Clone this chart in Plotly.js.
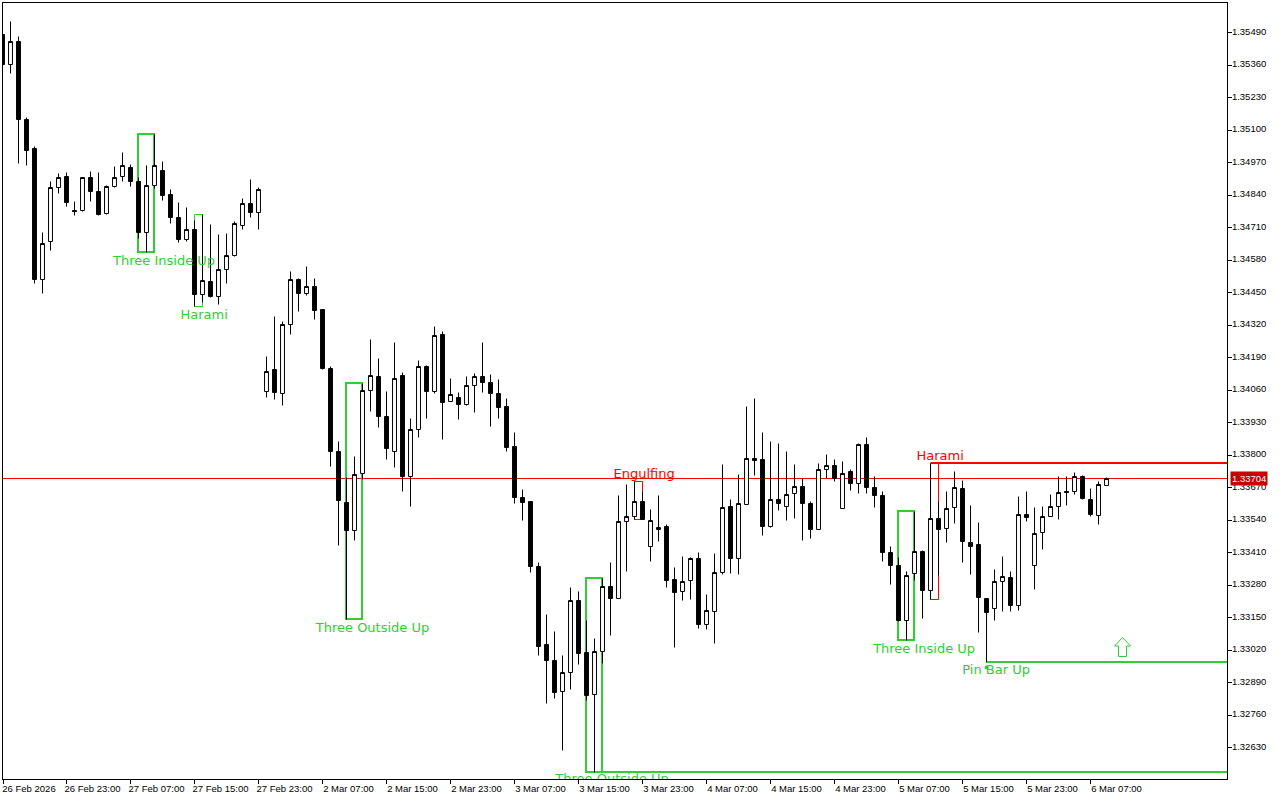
<!DOCTYPE html>
<html><head><meta charset="utf-8">
<script src="https://cdn.plot.ly/plotly-3.0.1.min.js"></script>
<style>html,body{margin:0;padding:0;background:#fff}#c{width:1280px;height:800px}</style>
</head><body><div id="c"></div>
<script>
const open = [1.35482,1.35362,1.35454,1.35142,1.35026,1.34502,1.34654,1.34870,1.34914,1.34778,1.34778,1.34910,1.34854,1.34766,1.34874,1.34914,1.34950,1.34894,1.34690,1.34878,1.34938,1.34842,1.34750,1.34662,1.34702,1.34442,1.34494,1.34434,1.34542,1.34598,1.34718,1.34806,1.34770,
1.34054,1.34142,1.34046,1.34322,1.34502,1.34446,1.34474,1.34382,1.34146,1.33814,1.33610,1.33498,1.33726,1.34058,1.34114,1.33954,1.33814,1.34118,1.33714,1.33902,1.34154,1.34054,1.34282,1.34014,1.34030,1.34002,1.34078,1.34114,1.34090,1.34046,1.33994,1.33834,1.33630,1.33614,1.33354,1.33042,1.32978,1.32854,1.32930,1.33218,1.33010,1.32842,1.33014,1.33274,1.33226,1.33534,1.33554,1.33614,1.33434,1.33502,1.33514,1.33302,1.33254,1.33298,1.33386,1.33122,1.33174,1.33330,1.33594,1.33386,1.33602,1.33786,1.33782,1.33514,1.33622,1.33594,1.33646,1.33674,1.33606,1.33502,1.33742,1.33758,1.33586,1.33734,1.33686,1.33842,1.33670,1.33638,1.33410,1.33358,1.33138,1.33326,1.33414,1.33258,1.33546,1.33506,1.33590,1.33666,1.33450,1.33442,1.33226,1.33186,1.33294,1.33310,1.33198,1.33562,1.33358,1.33490,1.33554,1.33594,1.33654,1.33654,1.33714,1.33622,1.33558,1.33678];
const high = [1.35482,1.35534,1.35474,1.35150,1.35034,1.34690,1.34894,1.34926,1.34930,1.34814,1.34910,1.34934,1.34930,1.34878,1.34954,1.35010,1.34962,1.34910,1.34958,1.35082,1.34974,1.34862,1.34810,1.34790,1.34738,1.34762,1.34722,1.34682,1.34686,1.34734,1.34826,1.34902,1.34870,
1.34194,1.34354,1.34334,1.34534,1.34506,1.34554,1.34506,1.34382,1.34154,1.33854,1.33710,1.33794,1.34086,1.34262,1.34186,1.34054,1.34250,1.34130,1.33946,1.34178,1.34158,1.34314,1.34294,1.34106,1.34050,1.34114,1.34126,1.34250,1.34122,1.34102,1.34026,1.33890,1.33662,1.33614,1.33370,1.33162,1.33094,1.32998,1.33270,1.33254,1.33138,1.33066,1.33306,1.33370,1.33638,1.33682,1.33694,1.33654,1.33582,1.33638,1.33522,1.33350,1.33394,1.33390,1.33410,1.33242,1.33406,1.33762,1.33622,1.33722,1.33994,1.34026,1.33890,1.33854,1.33846,1.33814,1.33762,1.33706,1.33614,1.33766,1.33802,1.33782,1.33774,1.33742,1.33846,1.33870,1.33714,1.33654,1.33434,1.33390,1.33334,1.33574,1.33418,1.33766,1.33614,1.33654,1.33734,1.33698,1.33598,1.33530,1.33226,1.33342,1.33394,1.33334,1.33634,1.33654,1.33590,1.33594,1.33642,1.33714,1.33714,1.33730,1.33718,1.33666,1.33694,1.33710];
const low = [1.35362,1.35326,1.34966,1.34958,1.34486,1.34446,1.34618,1.34846,1.34794,1.34758,1.34774,1.34814,1.34758,1.34762,1.34870,1.34894,1.34874,1.34666,1.34610,1.34866,1.34818,1.34726,1.34650,1.34654,1.34394,1.34410,1.34430,1.34402,1.34486,1.34594,1.34702,1.34750,1.34702,
1.34030,1.34022,1.33998,1.34282,1.34374,1.34438,1.34342,1.34142,1.33754,1.33438,1.33142,1.33458,1.33702,1.33974,1.33910,1.33782,1.33750,1.33654,1.33594,1.33870,1.33946,1.34046,1.33862,1.34014,1.33942,1.33998,1.33970,1.34050,1.33914,1.33946,1.33814,1.33606,1.33538,1.33330,1.32998,1.32806,1.32826,1.32618,1.32862,1.32962,1.32818,1.32530,1.32966,1.33078,1.33226,1.33334,1.33542,1.33542,1.33374,1.33454,1.33270,1.33030,1.33218,1.33222,1.33106,1.33102,1.33046,1.33322,1.33326,1.33322,1.33602,1.33718,1.33478,1.33510,1.33578,1.33538,1.33546,1.33458,1.33466,1.33502,1.33706,1.33694,1.33586,1.33658,1.33646,1.33646,1.33590,1.33374,1.33282,1.33134,1.33058,1.33298,1.33146,1.33222,1.33318,1.33450,1.33526,1.33370,1.33322,1.33090,1.32970,1.33138,1.33174,1.33174,1.33178,1.33534,1.33262,1.33422,1.33554,1.33542,1.33598,1.33642,1.33622,1.33554,1.33522,1.33678];
const close = [1.35362,1.35454,1.35142,1.35018,1.34502,1.34646,1.34870,1.34910,1.34810,1.34774,1.34910,1.34854,1.34762,1.34874,1.34910,1.34958,1.34894,1.34690,1.34878,1.34958,1.34838,1.34750,1.34662,1.34702,1.34442,1.34498,1.34434,1.34542,1.34598,1.34726,1.34806,1.34770,1.34862,
1.34134,1.34050,1.34322,1.34502,1.34446,1.34474,1.34378,1.34146,1.33814,1.33618,1.33498,1.33722,1.34058,1.34118,1.33954,1.33826,1.34106,1.33714,1.33902,1.34154,1.34054,1.34278,1.34010,1.34042,1.34002,1.34078,1.34114,1.34090,1.34046,1.33990,1.33830,1.33630,1.33610,1.33354,1.33034,1.32978,1.32850,1.32930,1.33218,1.33006,1.32838,1.33014,1.33274,1.33226,1.33534,1.33554,1.33614,1.33542,1.33538,1.33510,1.33298,1.33250,1.33294,1.33386,1.33122,1.33178,1.33330,1.33590,1.33386,1.33606,1.33786,1.33778,1.33514,1.33622,1.33606,1.33642,1.33674,1.33606,1.33502,1.33742,1.33758,1.33706,1.33726,1.33686,1.33842,1.33670,1.33638,1.33410,1.33358,1.33138,1.33318,1.33414,1.33258,1.33546,1.33502,1.33586,1.33670,1.33454,1.33434,1.33230,1.33170,1.33294,1.33314,1.33198,1.33562,1.33550,1.33486,1.33554,1.33594,1.33650,1.33650,1.33714,1.33626,1.33562,1.33682,1.33706];

const barIndex = open.map((_, i) => i);
const tickBars = [0,8,16,24,32,40,48,56,64,72,80,88,96,104,112,120,128,136];
const tickLabels = ["26 Feb 2026","26 Feb 23:00","27 Feb 07:00","27 Feb 15:00","27 Feb 23:00","2 Mar 07:00","2 Mar 15:00","2 Mar 23:00","3 Mar 07:00","3 Mar 15:00","3 Mar 23:00","4 Mar 07:00","4 Mar 15:00","4 Mar 23:00","5 Mar 07:00","5 Mar 15:00","5 Mar 23:00","6 Mar 07:00"];
const priceTicks = [1.32630,1.32760,1.32890,1.33020,1.33150,1.33280,1.33410,1.33540,1.33670,1.33800,1.33930,1.34060,1.34190,1.34320,1.34450,1.34580,1.34710,1.34840,1.34970,1.35100,1.35230,1.35360,1.35490];
const currentPrice = 1.33704;
const currentPriceLine = 1.33706;

const GREEN = "#32cd32", RED = "#ff0000";
const boxBarStart = [17,24,43,73,79,112,116];
const boxBarEnd   = [19,25,45,75,80,114,117];
const boxTop      = [1.35084,1.34762,1.34088,1.33308,1.33694,1.33576,1.33766];
const boxBottom   = [1.34612,1.34394,1.33144,1.32532,1.33542,1.33060,1.33222];
const boxColor    = [GREEN,GREEN,GREEN,GREEN,RED,GREEN,RED];
const boxWidth    = [2,1,2,2,1,2,1];
const levelBar    = [75,116,123];
const levelPrice  = [1.32532,1.33768,1.32972];
const levelColor  = [GREEN,RED,GREEN];
const labelText   = ["Three Inside Up","Harami","Three Outside Up","Three Outside Up","Engulfing","Harami","Three Inside Up","Pin Bar Up"];
const labelBar    = [20.2,25.2,46.25,76.2,80.2,117.2,115.2,124.2];
const labelPrice  = [1.34574,1.34358,1.33106,1.32526,1.33722,1.33794,1.33022,1.32938];
const labelPos    = ["middle center","middle center","middle center","bottom center","middle center","middle center","middle center","middle center"];
const labelColor  = [GREEN,GREEN,GREEN,GREEN,RED,RED,GREEN,GREEN];
const arrowBar = 140, arrowPrice = 1.33032;
const pinBar = [123], pinPrice = [1.32950];

const xRange = [0.0625,153.06], yRange = [1.32504,1.35608];
const shapes = [];
boxBarStart.forEach((b,i)=>{
  const nudge = boxWidth[i] === 2 ? 0.0625 : 0;
  shapes.push({type:"rect",layer:"below",xref:"x",yref:"y",x0:b-nudge,x1:boxBarEnd[i]-nudge,y0:boxBottom[i],y1:boxTop[i],line:{color:boxColor[i],width:boxWidth[i]},fillcolor:"rgba(0,0,0,0)"});
});
levelBar.forEach((b,i)=>shapes.push({type:"line",layer:"below",xref:"x",yref:"y",x0:b,x1:xRange[1],y0:levelPrice[i],y1:levelPrice[i],line:{color:levelColor[i],width:2}}));
shapes.push({type:"line",layer:"below",xref:"paper",yref:"y",x0:0,x1:1,y0:currentPriceLine,y1:currentPriceLine,line:{color:RED,width:1}});
shapes.push({type:"path",layer:"above",xref:"x",yref:"y",xsizemode:"pixel",ysizemode:"pixel",xanchor:arrowBar,yanchor:arrowPrice,
  path:"M0,9.5 L8,1 L4,1 L4,-9.5 L-4,-9.5 L-4,1 L-8,1 Z",line:{color:GREEN,width:1},fillcolor:"#fff"});

const font = "Liberation Sans, sans-serif";
const labelFont = "DejaVu Sans, sans-serif";
Plotly.newPlot("c",[
 {type:"candlestick",x:barIndex,open:open,high:high,low:low,close:close,
  increasing:{line:{color:"#000",width:1},fillcolor:"#fff"},
  decreasing:{line:{color:"#000",width:1},fillcolor:"#000"},
  whiskerwidth:0,hoverinfo:"skip",showlegend:false},
 {type:"scatter",mode:"text",x:labelBar,y:labelPrice,text:labelText,textposition:labelPos,
  textfont:{family:labelFont,size:13,color:labelColor},cliponaxis:true,hoverinfo:"skip",showlegend:false},
 {type:"scatter",mode:"markers",x:pinBar,y:pinPrice,marker:{symbol:"circle",size:4,color:GREEN},hoverinfo:"skip",showlegend:false}
],{
 width:1280,height:800,autosize:false,
 paper_bgcolor:"#fff",plot_bgcolor:"#fff",
 margin:{l:3,r:53,t:3,b:21,pad:0},
 showlegend:false,dragmode:false,hovermode:false,
 xaxis:{type:"linear",range:xRange,autorange:false,rangeslider:{visible:false},tickmode:"array",tickvals:tickBars.map(b=>Math.max(b,xRange[0])),ticktext:tickLabels,
  ticks:"outside",ticklen:4,tickwidth:1,tickcolor:"#000",showgrid:false,zeroline:false,showline:true,linecolor:"#000",linewidth:1,mirror:true,
  tickangle:0,ticklabelshift:26,ticklabelstandoff:-3,ticklabeloverflow:"allow",tickfont:{family:font,size:9.5,color:"#000"}},
 yaxis:{side:"right",type:"linear",range:yRange,autorange:false,tickmode:"array",tickvals:priceTicks,ticktext:priceTicks.map(v=>v.toFixed(5)),
  ticks:"outside",ticklen:4,tickwidth:1,tickcolor:"#000",showgrid:false,zeroline:false,showline:true,linecolor:"#000",linewidth:1,mirror:true,
  ticklabelstandoff:-2,ticklabelshift:-1,tickfont:{family:font,size:9.5,color:"#000"}},
 shapes:shapes,
 annotations:[{xref:"paper",yref:"y",x:1,y:currentPrice,xanchor:"left",yanchor:"middle",xshift:3,yshift:1,text:currentPrice.toFixed(5),showarrow:false,
  font:{family:font,size:9.5,color:"#fff"},bgcolor:"#c80000",borderpad:1}]
},{displayModeBar:false,staticPlot:true});
</script></body></html>
